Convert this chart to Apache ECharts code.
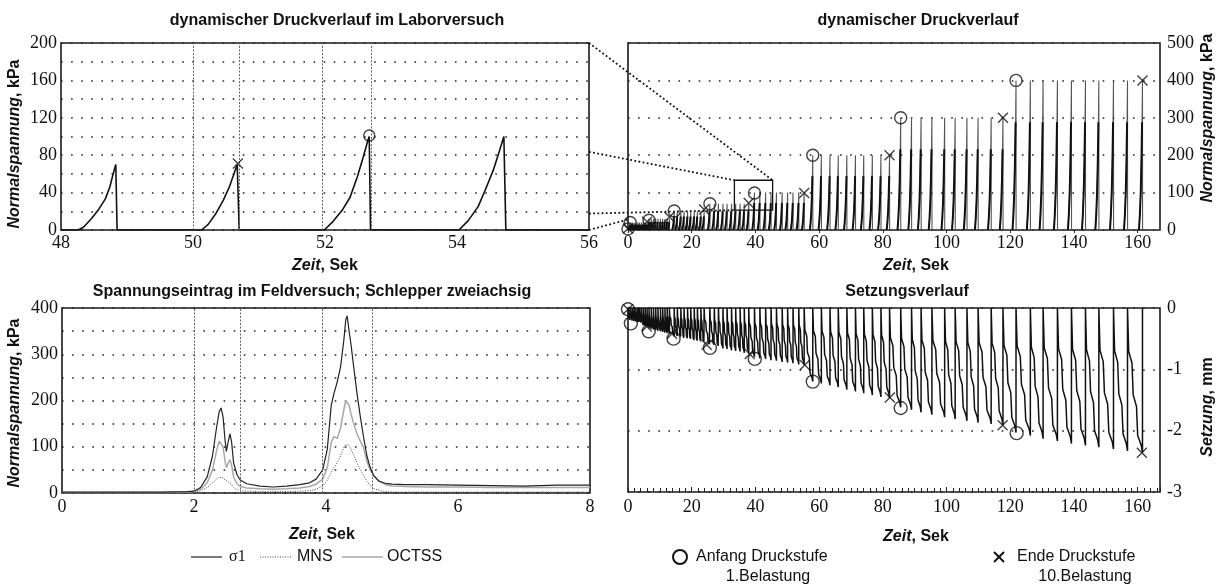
<!DOCTYPE html>
<html><head><meta charset="utf-8">
<script src="https://cdn.jsdelivr.net/npm/echarts@6/dist/echarts.min.js"></script>
<style>html,body{margin:0;padding:0;background:#fff}#c{width:1219px;height:587px}</style>
</head><body><div id="c"></div>
<script>
// ---------- Top-left: lab pulses (Zeit s, kPa) ----------
const labPulse1 = [[48.26,0],[48.34,3],[48.46,12],[48.57,22],[48.67,33],[48.74,46],[48.79,60],[48.83,70],[48.85,0]];
const labPulse2 = [[50.13,0],[50.23,6],[50.35,18],[50.46,32],[50.55,46],[50.62,60],[50.67,70],[50.69,70],[50.70,0]];
const labPulse3 = [[51.99,0],[52.12,9],[52.26,21],[52.38,35],[52.49,57],[52.58,78],[52.65,96],[52.67,100],[52.69,0]];
const labPulse4 = [[54.03,0],[54.17,10],[54.32,25],[54.43,43],[54.55,64],[54.64,84],[54.71,100],[54.74,0]];
const labCross = [[50.68,71]];
const labCircle = [[52.67,101]];
const labMarkX = [50.0, 50.7, 51.96, 52.7];

// ---------- Top-right / bottom-right: load stages ----------
const stagePeak = [20, 30, 50, 70, 100, 200, 300, 400];
const stageRamp = [0.4, 0.45, 0.6, 0.7, 0.7, 0.9, 1.0, 1.1];
const stageTimes = [
  [0.7, 1.3, 1.9, 2.5, 3.1, 3.6, 4.2, 4.8, 5.4, 6.0],
  [6.6, 7.3, 8.0, 8.7, 9.4, 10.2, 10.9, 11.6, 12.3, 13.0],
  [14.5, 15.5, 16.6, 17.6, 18.7, 19.7, 20.8, 21.8, 22.9, 23.9],
  [25.7, 27.1, 28.4, 29.8, 31.1, 32.5, 33.8, 35.2, 36.5, 37.9],
  [39.7, 41.4, 43.2, 44.9, 46.6, 48.4, 50.1, 51.8, 53.6, 55.3],
  [58.0, 60.7, 63.4, 66.0, 68.7, 71.4, 74.0, 76.7, 79.4, 82.1],
  [85.6, 89.0, 92.0, 95.4, 99.4, 102.7, 106.4, 109.9, 114.0, 117.7],
  [121.8, 126.3, 130.3, 134.8, 139.2, 143.6, 147.8, 152.4, 156.8, 161.5]
];
const setzMin = [
  [-0.22,-0.23,-0.24,-0.25,-0.26,-0.26,-0.27,-0.28,-0.29,-0.30],
  [-0.33,-0.34,-0.35,-0.36,-0.37,-0.38,-0.39,-0.40,-0.41,-0.42],
  [-0.46,-0.48,-0.49,-0.51,-0.52,-0.53,-0.55,-0.56,-0.57,-0.58],
  [-0.62,-0.63,-0.65,-0.66,-0.67,-0.69,-0.70,-0.71,-0.73,-0.74],
  [-0.80,-0.82,-0.83,-0.85,-0.86,-0.88,-0.89,-0.90,-0.92,-0.93],
  [-1.20,-1.23,-1.26,-1.29,-1.33,-1.36,-1.39,-1.42,-1.45,-1.47],
  [-1.62,-1.66,-1.70,-1.74,-1.78,-1.81,-1.84,-1.87,-1.89,-1.91],
  [-2.03,-2.08,-2.13,-2.17,-2.21,-2.24,-2.27,-2.30,-2.33,-2.36]
];
// pulse profile: [fraction of ramp before peak, fraction of peak]
const pulseShape = [[-1,0],[-0.75,0.1],[-0.5,0.25],[-0.3,0.45],[-0.12,0.72],[0,1]];
const rampDarkPart = 5; // first points of the profile drawn as the heavy black ramp
// settlement descent profile inside one cycle: [fraction of cycle, fraction of minimum]
const setzShape = [[0,0],[0.08,0.3],[0.3,0.38],[0.38,0.6],[0.6,0.68],[0.68,0.88],[0.92,0.95],[1,1]];

const druckCircle = [[0,3],[0.7,20],[6.6,26],[14.5,51],[25.7,70],[39.7,99],[58.0,200],[85.6,300],[121.8,400]];
const druckCross  = [[0,4],[6.0,22],[13.0,35],[23.9,55],[37.9,72],[55.3,99],[82.1,200],[117.7,300],[161.5,400]];
const setzCircle = [[0,-0.02],[0.9,-0.25],[6.5,-0.38],[14.3,-0.5],[25.7,-0.65],[39.8,-0.83],[58.0,-1.2],[85.6,-1.63],[122.0,-2.04]];
const setzCross  = [[0,-0.02],[5.9,-0.3],[13.8,-0.42],[24.7,-0.6],[38.2,-0.75],[55.5,-0.93],[82.2,-1.46],[117.6,-1.91],[161.3,-2.36]];

// ---------- Bottom-left: field test ----------
const fieldTime = [0,0.5,1.0,1.5,1.9,2.0,2.1,2.2,2.28,2.34,2.38,2.41,2.44,2.47,2.49,2.52,2.545,2.57,2.6,2.65,2.7,2.8,3.0,3.2,3.4,3.6,3.75,3.85,3.95,4.02,4.08,4.12,4.17,4.22,4.27,4.3,4.32,4.35,4.38,4.42,4.47,4.52,4.57,4.62,4.67,4.72,4.8,4.9,5.0,5.2,5.5,6.0,6.5,7.0,7.5,8.0];
const fieldSigma1 = [2,2,2,2,3,4,12,35,80,140,175,184,165,115,90,112,128,110,65,40,28,20,15,13,15,18,22,30,50,95,190,215,240,272,330,375,383,350,320,272,215,165,120,80,55,38,26,21,19,18,18,17,16,15,17,17];
const fieldMNS    = [1,1,1,1,2,2,5,12,22,30,34,35,33,28,26,24,22,18,12,7,5,4,3,3,3,4,5,8,15,28,45,55,65,80,98,105,107,103,95,82,65,50,38,25,16,10,6,3,2,2,2,2,2,2,2,2];
const fieldOCTSS  = [1,1,1,1,2,3,8,22,50,90,112,115,100,70,55,65,72,60,35,20,14,11,9,8,9,11,14,19,30,55,110,122,118,140,180,200,204,190,170,150,128,112,98,68,50,38,26,18,15,14,13,13,12,12,12,12];
const fieldMarkX = [2.0, 2.7, 3.94, 4.7];

// ---------- build series data ----------
const zip = (a,b)=>a.map((t,i)=>[t,b[i]]);
const labData = [[48,0]].concat(labPulse1, labPulse2, labPulse3, labPulse4, [[56,0]]);
const druckData = [[0,0]];
const druckRamp = [];
stageTimes.forEach((times,s)=>times.forEach(tp=>{
  pulseShape.forEach(([f,v],i)=>{
    const pt = [tp+f*stageRamp[s], v*stagePeak[s]];
    druckData.push(pt);
    if (i < rampDarkPart) druckRamp.push(pt);
  });
  druckRamp.push([tp, null]);
  druckData.push([tp+0.03,0]);
}));
druckData.push([167,0]);
const setzData = [[0,0]];
let prevT = 0;
stageTimes.forEach((times,s)=>times.forEach((tp,k)=>{
  const m = setzMin[s][k];
  setzShape.forEach(([f,v])=>setzData.push([prevT+f*(tp-prevT), v*m]));
  setzData.push([tp,0]);
  prevT = tp;
}));

const SERIF = 'Liberation Serif', SANS = 'Liberation Sans';
const tickFont = {fontFamily:SERIF, fontSize:18, color:'#111'};
const dotted = {show:true, lineStyle:{type:[1.6,8.5], color:'#222', width:1.6}};
const gridBase = {show:true, borderColor:'#1a1a1a', borderWidth:1.6, backgroundColor:'#fff'};
const crossPath = 'path://M0,0L10,10M10,0L0,10';
const hollow = {color:'rgba(0,0,0,0)', borderColor:'#111', borderWidth:1.4};
const noLine = {show:false, onZero:false};
const markLines = (xs)=>({symbol:'none', silent:true, label:{show:false}, animation:false,
  lineStyle:{type:[2,1.5], color:'#666', width:1}, data:xs.map(x=>({xAxis:x}))});

const chart = echarts.init(document.getElementById('c'), null, {renderer:'canvas'});
const option = {
  animation:false,
  grid:[
    Object.assign({left:61, top:43, width:528, height:187}, gridBase),
    Object.assign({left:628, top:43, width:532, height:187}, gridBase),
    Object.assign({left:62, top:308, width:528, height:185}, gridBase),
    Object.assign({left:628, top:308, width:532, height:184}, gridBase)
  ],
  xAxis:[
    {gridIndex:0, type:'value', min:48, max:56, interval:2, axisLine:noLine, axisTick:{show:false}, splitLine:{show:false}, axisLabel:Object.assign({margin:4}, tickFont)},
    {gridIndex:1, type:'value', min:0, max:167, interval:20, axisLine:noLine, axisTick:{show:true, length:3, lineStyle:{color:'#222'}}, splitLine:{show:false},
      axisLabel:Object.assign({margin:4, showMaxLabel:false, formatter:v=>(v%20===0&&v<=160)?String(v):''}, tickFont)},
    {gridIndex:2, type:'value', min:0, max:8, interval:2, axisLine:noLine, axisTick:{show:false}, splitLine:{show:false}, axisLabel:Object.assign({margin:5}, tickFont)},
    {gridIndex:3, type:'value', min:0, max:167, interval:20, axisLine:noLine,
      axisTick:{show:true, inside:true, length:5, lineStyle:{color:'#222'}},
      minorTick:{show:true, splitNumber:10, length:4, lineStyle:{color:'#222'}},
      splitLine:{show:false},
      axisLabel:Object.assign({margin:6, showMaxLabel:false, formatter:v=>(v%20===0&&v<=160)?String(v):''}, tickFont)}
  ],
  yAxis:[
    {gridIndex:0, type:'value', min:0, max:200, interval:20, axisLine:noLine, axisTick:{show:false}, splitLine:dotted,
      axisLabel:Object.assign({margin:4, formatter:v=>v%40===0?String(v):''}, tickFont)},
    {gridIndex:1, type:'value', position:'right', min:0, max:500, interval:100, axisLine:noLine, axisTick:{show:false}, splitLine:dotted,
      axisLabel:Object.assign({margin:7}, tickFont)},
    {gridIndex:2, type:'value', min:0, max:400, interval:50, axisLine:noLine, axisTick:{show:false}, splitLine:dotted,
      axisLabel:Object.assign({margin:4, formatter:v=>v%100===0?String(v):''}, tickFont)},
    {gridIndex:3, type:'value', position:'right', min:-3, max:0, interval:1, axisLine:noLine, axisTick:{show:false}, splitLine:dotted,
      axisLabel:Object.assign({margin:7}, tickFont)}
  ],
  series:[
    {name:'Laborversuch', type:'line', xAxisIndex:0, yAxisIndex:0, data:labData, showSymbol:false, symbol:'none',
      lineStyle:{color:'#111', width:1.6}, markLine:markLines(labMarkX), z:3},
    {name:'Ende lab', type:'scatter', xAxisIndex:0, yAxisIndex:0, data:labCross, symbol:crossPath, symbolSize:10, itemStyle:hollow, z:5},
    {name:'Anfang lab', type:'scatter', xAxisIndex:0, yAxisIndex:0, data:labCircle, symbol:'circle', symbolSize:11, itemStyle:hollow, z:5},

    {name:'Druck', type:'line', xAxisIndex:1, yAxisIndex:1, data:druckData, showSymbol:false, symbol:'none',
      lineStyle:{color:'#555', width:1.1}, z:3},
    {name:'Druck Rampe', type:'line', xAxisIndex:1, yAxisIndex:1, data:druckRamp, showSymbol:false, symbol:'none', connectNulls:false,
      lineStyle:{color:'#111', width:2}, z:4},
    {name:'Anfang Druckstufe', type:'scatter', xAxisIndex:1, yAxisIndex:1, data:druckCircle, symbol:'circle', symbolSize:12, itemStyle:hollow, z:5},
    {name:'Ende Druckstufe', type:'scatter', xAxisIndex:1, yAxisIndex:1, data:druckCross, symbol:crossPath, symbolSize:10, itemStyle:hollow, z:5},

    {name:'σ1', type:'line', xAxisIndex:2, yAxisIndex:2, data:zip(fieldTime, fieldSigma1), showSymbol:false, symbol:'none',
      lineStyle:{color:'#222', width:1.2}, markLine:markLines(fieldMarkX), z:4},
    {name:'MNS', type:'line', xAxisIndex:2, yAxisIndex:2, data:zip(fieldTime, fieldMNS), showSymbol:false, symbol:'none',
      lineStyle:{color:'#444', width:1, type:[1,1.5]}, z:3},
    {name:'OCTSS', type:'line', xAxisIndex:2, yAxisIndex:2, data:zip(fieldTime, fieldOCTSS), showSymbol:false, symbol:'none',
      lineStyle:{color:'#a8a8a8', width:1.5}, z:3},

    {name:'Setzung', type:'line', xAxisIndex:3, yAxisIndex:3, data:setzData, showSymbol:false, symbol:'none',
      lineStyle:{color:'#111', width:1.5}, z:3},
    {name:'Anfang Setzung', type:'scatter', xAxisIndex:3, yAxisIndex:3, data:setzCircle, symbol:'circle', symbolSize:13, itemStyle:hollow, z:5},
    {name:'Ende Setzung', type:'scatter', xAxisIndex:3, yAxisIndex:3, data:setzCross, symbol:crossPath, symbolSize:10, itemStyle:hollow, z:5}
  ]
};
chart.setOption(option);

// ---------- annotations ----------
const titleStyle = (t,x,y)=>({type:'text', x, y, style:{text:t, font:'bold 16px "Liberation Sans"', fill:'#111', align:'center', verticalAlign:'middle'}});
const richName = {
  i:{fontFamily:SANS, fontSize:16, fontWeight:'bold', fontStyle:'italic', fill:'#111'},
  b:{fontFamily:SANS, fontSize:16, fontWeight:'bold', fill:'#111'}
};
const nameText = (t,x,y,rot)=>({type:'text', x, y, rotation:rot||0,
  style:{text:t, rich:richName, align:'center', verticalAlign:'middle'}});
const plainText = (t,x,y,align,font)=>({type:'text', x, y, style:{text:t, font:font||'16px "Liberation Sans"', fill:'#111', align:align||'left', verticalAlign:'middle'}});
const seg = (x1,y1,x2,y2,st)=>({type:'line', shape:{x1,y1,x2,y2}, style:Object.assign({stroke:'#111', lineWidth:1.2}, st||{})});

const P = (g,pt)=>chart.convertToPixel({gridIndex:g}, pt);
const boxA = P(1,[33.4,133]), boxB = P(1,[45.4,53]);
const conn = {stroke:'#111', lineWidth:1.8, lineDash:[1.8,2.4]};
const c1 = P(0,[56,200]), c2 = P(0,[56,83.6]), c3 = P(0,[56,17.6]), c4 = P(0,[56,0]);
const d4 = P(1,[0,28]);

const graphics = [
  titleStyle('dynamischer Druckverlauf im Laborversuch', 337, 21),
  titleStyle('dynamischer Druckverlauf', 918, 21),
  titleStyle('Spannungseintrag im Feldversuch; Schlepper zweiachsig', 312, 292),
  titleStyle('Setzungsverlauf', 907, 292),
  nameText('{i|Zeit}{b|, Sek}', 325, 266),
  nameText('{i|Zeit}{b|, Sek}', 916, 266),
  nameText('{i|Zeit}{b|, Sek}', 322, 535),
  nameText('{i|Zeit}{b|, Sek}', 916, 537),
  nameText('{i|Normalspannung}{b|, kPa}', 15, 144, Math.PI/2),
  nameText('{i|Normalspannung}{b|, kPa}', 15, 403, Math.PI/2),
  nameText('{i|Normalspannung}{b|, kPa}', 1208, 118, Math.PI/2),
  nameText('{i|Setzung}{b|, mm}', 1208, 407, Math.PI/2),
  // field legend
  seg(191,557,222,557,{stroke:'#222', lineWidth:1.2}),
  plainText('σ1', 229, 557, 'left', '16px "Liberation Serif"'),
  seg(260,557,291,557,{stroke:'#444', lineWidth:1, lineDash:[1,1.5]}),
  plainText('MNS', 297, 557),
  seg(342,557,383,557,{stroke:'#a8a8a8', lineWidth:1.5}),
  plainText('OCTSS', 387, 557),
  // settlement legend
  {type:'circle', shape:{cx:680, cy:557, r:7}, style:{fill:'none', stroke:'#111', lineWidth:2}},
  plainText('Anfang Druckstufe', 696, 557),
  plainText('1.Belastung', 768, 577, 'center'),
  seg(994,552,1004,562,{lineWidth:2}), seg(1004,552,994,562,{lineWidth:2}),
  plainText('Ende Druckstufe', 1017, 557),
  plainText('10.Belastung', 1085, 577, 'center'),
  // zoom box and connectors
  {type:'rect', shape:{x:boxA[0], y:boxA[1], width:boxB[0]-boxA[0], height:boxB[1]-boxA[1]}, style:{fill:'none', stroke:'#111', lineWidth:1.3}, z:10},
  Object.assign(seg(c1[0],c1[1],boxB[0],boxA[1],conn),{z:10}),
  Object.assign(seg(c2[0],c2[1],boxA[0],boxA[1],conn),{z:10}),
  Object.assign(seg(c3[0],c3[1],boxA[0],boxB[1],conn),{z:10}),
  Object.assign(seg(c4[0],c4[1],d4[0],d4[1],conn),{z:10})
];
chart.setOption({graphic:graphics});
</script>
</body></html>
